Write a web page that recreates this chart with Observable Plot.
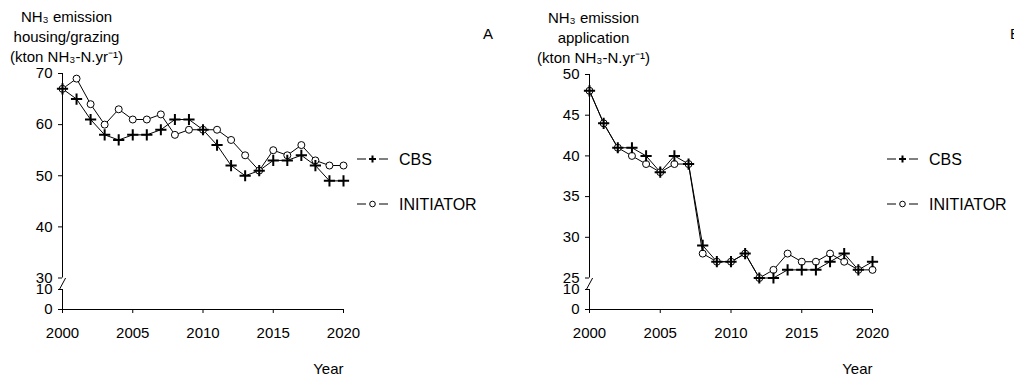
<!DOCTYPE html>
<html>
<head>
<meta charset="utf-8">
<script src="https://cdn.jsdelivr.net/npm/d3@7"></script>
<script src="https://cdn.jsdelivr.net/npm/@observablehq/plot@0.6"></script>
<style>
  body { margin: 0; background: #fff; }
  #fig { position: relative; width: 1014px; height: 381px; overflow: hidden;
         font-family: "Liberation Sans", Arial, Helvetica, sans-serif; color: #000; }
  #fig svg.panel { position: absolute; top: 0; }
  .letter { position: absolute; font-size: 15px; line-height: 1; }
</style>
</head>
<body>
<div id="fig"></div>
<script>
// Years on the x axis
const years = [2000, 2001, 2002, 2003, 2004, 2005, 2006, 2007, 2008, 2009, 2010,
               2011, 2012, 2013, 2014, 2015, 2016, 2017, 2018, 2019, 2020];
const xTicks = [2000, 2005, 2010, 2015, 2020];
const seriesNames = ["CBS", "INITIATOR"];

// Panel A: housing/grazing emission (kton NH3-N per year)
const housingCBS       = [67, 65, 61, 58, 57, 58, 58, 59, 61, 61, 59, 56, 52, 50, 51, 53, 53, 54, 52, 49, 49];
const housingInitiator = [67, 69, 64, 60, 63, 61, 61, 62, 58, 59, 59, 59, 57, 54, 51, 55, 54, 56, 53, 52, 52];
const housingYDomain   = [0, 10, 30, 70];          // broken axis: 0–10, then 30–70
const housingYTicks    = [0, 10, 30, 40, 50, 60, 70];

// Panel B: application emission (kton NH3-N per year)
const applicationCBS       = [48, 44, 41, 41, 40, 38, 40, 39, 29, 27, 27, 28, 25, 25, 26, 26, 26, 27, 28, 26, 27];
const applicationInitiator = [48, 44, 41, 40, 39, 38, 39, 39, 28, 27, 27, 28, 25, 26, 28, 27, 27, 28, 27, 26, 26];
const applicationYDomain   = [0, 10, 25, 50];      // broken axis: 0–10, then 25–50
const applicationYTicks    = [0, 10, 25, 30, 35, 40, 45, 50];

const FONT = '"Liberation Sans", Arial, Helvetica, sans-serif';
const W = 507, H = 381;
const STUB = 20;   // height given to the 0–10 stub below the break
const GAP = 11.5;  // height of the break itself

// Broken-axis position: squeezes the lower stub and the break, the upper
// segment stays linear. The result feeds Plot's linear y scale.
function brokenAxis([lo0, lo1, hi0, hi1], span) {
  return v => v <= lo1 ? (v - lo0) / (lo1 - lo0) * STUB
    : v >= hi0 ? STUB + GAP + (v - hi0) / (hi1 - hi0) * (span - STUB - GAP)
    : STUB + (v - lo1) / (hi0 - lo1) * GAP;
}

function rows(cbs, init) {
  return years.flatMap((year, i) => [
    {year, value: cbs[i], series: seriesNames[0]},
    {year, value: init[i], series: seriesNames[1]}
  ]);
}

function panel({cbs, init, yDomain, yTicks, title, marginLeft, marginRight, marginTop}) {
  const marginBottom = 72;
  const span = H - marginBottom - marginTop;
  const pos = brokenAxis(yDomain, span);
  const tickLabel = new Map(yTicks.map(t => [pos(t), String(t)]));
  const data = rows(cbs, init);
  const [lo0, lo1, hi0, hi1] = yDomain;
  const yv = d => pos(d.value);
  return Plot.plot({
    width: W,
    height: H,
    marginLeft, marginRight, marginTop, marginBottom,
    className: "panel",
    style: {fontFamily: FONT, fontSize: "15px", color: "#000", background: "transparent", overflow: "visible"},
    x: {domain: [years[0], years[years.length - 1]]},
    y: {domain: [0, span]},
    marks: [
      Plot.axisX({ticks: xTicks, tickFormat: d => String(d), tickSize: 4, tickPadding: 14, label: null}),
      Plot.axisY({ticks: yTicks.map(pos), tickFormat: t => tickLabel.get(t), tickSize: 4, tickPadding: 6, label: null}),
      // axis lines with the break between the two y segments
      Plot.ruleY([pos(lo0)], {stroke: "#000"}),
      Plot.ruleX([years[0]], {y1: pos(lo0), y2: pos(lo1), stroke: "#000"}),
      Plot.ruleX([years[0]], {y1: pos(hi0), y2: pos(hi1), stroke: "#000"}),
      Plot.link([0], {x1: years[0] - 0.22, x2: years[0] + 0.22, y1: pos(lo1), y2: pos(hi0), stroke: "#000"}),
      // series
      Plot.line(data, {x: "year", y: yv, z: "series", stroke: "#000", strokeWidth: 1}),
      Plot.dot(data.filter(d => d.series === "INITIATOR"),
               {x: "year", y: yv, r: 3.5, fill: "#fff", stroke: "#000", strokeWidth: 1}),
      Plot.dot(data.filter(d => d.series === "CBS"),
               {x: "year", y: yv, symbol: "plus", r: 3.7, stroke: "#000", strokeWidth: 2}),
      // axis titles
      Plot.text([title], {text: d => d, frameAnchor: "top-left", textAnchor: "middle",
                          dx: 4, dy: -66, lineHeight: 1.33, fill: "#000"}),
      Plot.text(["Year"], {text: d => d, frameAnchor: "bottom-right", textAnchor: "end", dy: 64, fill: "#000"})
    ]
  });
}

const fig = d3.select("#fig");

const plotA = panel({
  cbs: housingCBS, init: housingInitiator,
  yDomain: housingYDomain, yTicks: housingYTicks,
  title: "NH\u2083 emission\nhousing/grazing\n(kton NH\u2083-N.yr\u207B\u00B9)",
  marginLeft: 62, marginRight: 164, marginTop: 73
});
plotA.style.left = "0px";
fig.node().appendChild(plotA);

const plotB = panel({
  cbs: applicationCBS, init: applicationInitiator,
  yDomain: applicationYDomain, yTicks: applicationYTicks,
  title: "NH\u2083 emission\napplication\n(kton NH\u2083-N.yr\u207B\u00B9)",
  marginLeft: 82, marginRight: 142, marginTop: 74
});
plotB.style.left = W + "px";
fig.node().appendChild(plotB);

// legends to the right of each panel
function addLegend(left) {
  const svg = fig.append("svg")
    .attr("width", 170).attr("height", 90)
    .style("position", "absolute").style("left", left + "px").style("top", "130px")
    .style("overflow", "visible");
  const items = [{name: seriesNames[0], y: 29}, {name: seriesNames[1], y: 74}];
  for (const it of items) {
    const g = svg.append("g").attr("transform", `translate(0,${it.y})`);
    g.append("line").attr("x1", 0).attr("x2", 9).attr("stroke", "#000");
    g.append("line").attr("x1", 22).attr("x2", 31).attr("stroke", "#000");
    if (it.name === "CBS") {
      g.append("path").attr("d", "M12,0H19M15.5,-3.5V3.5").attr("stroke", "#000").attr("stroke-width", 2);
    } else {
      g.append("circle").attr("cx", 15.5).attr("r", 2.8).attr("fill", "#fff").attr("stroke", "#000");
    }
    g.append("text").attr("x", 42).attr("dy", "0.35em")
      .attr("font-family", FONT).attr("font-size", 16).attr("fill", "#000")
      .text(it.name);
  }
}
addLegend(357);
addLegend(887);

// panel letters
fig.append("div").attr("class", "letter").style("left", "483px").style("top", "26px").text("A");
fig.append("div").attr("class", "letter").style("left", "1010px").style("top", "26px").text("B");
</script>
</body>
</html>
